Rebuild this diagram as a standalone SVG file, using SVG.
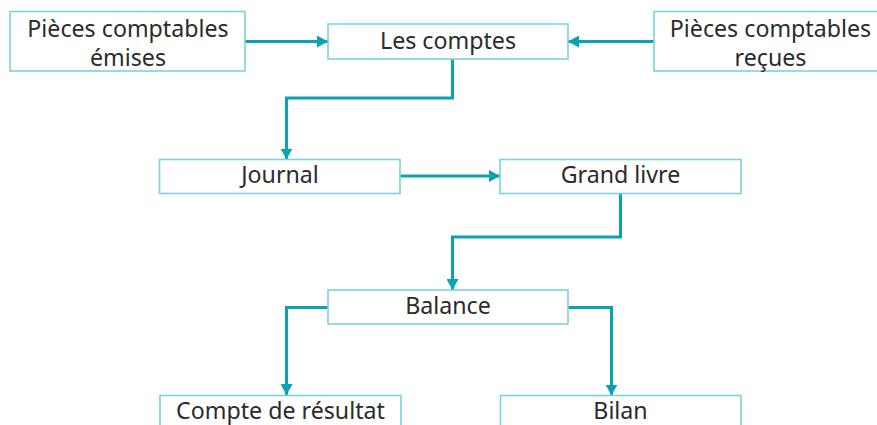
<svg xmlns="http://www.w3.org/2000/svg" width="877" height="425" viewBox="0 0 877 425">
  <defs>
    <marker id="arrow" markerUnits="userSpaceOnUse" markerWidth="12" markerHeight="12" refX="11" refY="6" orient="auto">
      <path d="M0,0 L11,6 L0,12 Z" fill="#0ba3b2"/>
    </marker>
    <style>
      .box { fill: #ffffff; stroke: #7fd0dc; stroke-width: 1.6; }
      .lbl { font-family: "Noto Sans", "Open Sans", sans-serif; font-size: 23.2px; fill: #2b2b2b; text-anchor: middle; }
      .conn { fill: none; stroke: #0ba3b2; stroke-width: 3; marker-end: url(#arrow); }
    </style>
  </defs>
  <rect width="877" height="425" fill="#ffffff"/>
  <g id="connectors">
    <path class="conn" d="M245,41.5 L328,41.5"/>
    <path class="conn" d="M654,41.5 L568,41.5"/>
    <path class="conn" d="M452.5,59 L452.5,98 L286.5,98 L286.5,159.5"/>
    <path class="conn" d="M400,176 L500,176"/>
    <path class="conn" d="M620.5,193 L620.5,237 L452.5,237 L452.5,290"/>
    <path class="conn" d="M328,307.5 L286.5,307.5 L286.5,395"/>
    <path class="conn" d="M568,307.5 L611.5,307.5 L611.5,395.5"/>
  </g>
  <g id="node-emises">
    <rect class="box" x="10" y="11.5" width="235" height="59.5"/>
    <text class="lbl" x="128" y="36.5">Pièces comptables</text>
    <text class="lbl" x="128" y="65.5">émises</text>
  </g>
  <g id="node-comptes">
    <rect class="box" x="328" y="24" width="240" height="35"/>
    <text class="lbl" x="448" y="49">Les comptes</text>
  </g>
  <g id="node-recues">
    <rect class="box" x="654" y="11.5" width="235" height="59.5"/>
    <text class="lbl" x="770.5" y="36.5">Pièces comptables</text>
    <text class="lbl" x="770.5" y="65.5">reçues</text>
  </g>
  <g id="node-journal">
    <rect class="box" x="159.5" y="159.5" width="240.5" height="34"/>
    <text class="lbl" x="280" y="183">Journal</text>
  </g>
  <g id="node-grandlivre">
    <rect class="box" x="500" y="159.5" width="241" height="34"/>
    <text class="lbl" x="620.5" y="183">Grand livre</text>
  </g>
  <g id="node-balance">
    <rect class="box" x="328" y="290" width="240" height="34"/>
    <text class="lbl" x="448" y="313.5">Balance</text>
  </g>
  <g id="node-resultat">
    <rect class="box" x="160" y="395.5" width="241" height="40"/>
    <text class="lbl" x="280.5" y="419">Compte de résultat</text>
  </g>
  <g id="node-bilan">
    <rect class="box" x="500.5" y="395.5" width="240.5" height="40"/>
    <text class="lbl" x="620.5" y="419">Bilan</text>
  </g>
</svg>
